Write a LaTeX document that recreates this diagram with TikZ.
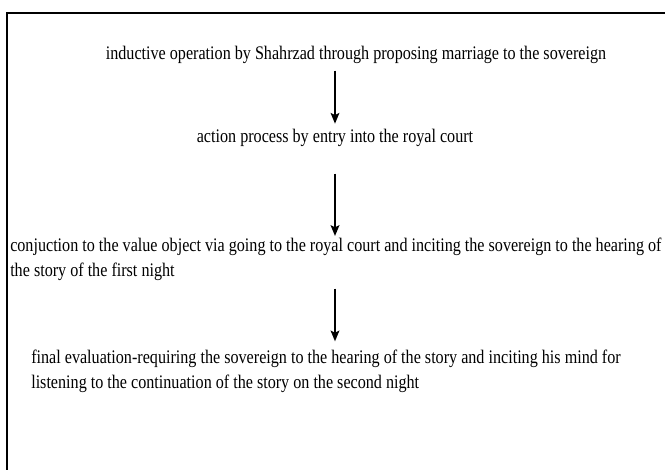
\documentclass[tikz,border=0pt]{standalone}
\usepackage{fontspec}
\setmainfont[FakeStretch=0.84]{Liberation Serif}
\usepackage{tikz}
\usetikzlibrary{arrows.meta,positioning}

\tikzset{
  stage/.style={inner sep=0pt, font=\fontsize{14.4pt}{18.75pt}\selectfont, align=left},
  flow/.style={line width=1.4pt, -{Stealth[length=8pt, width=6.5pt, inset=1.5pt]}}
}

\begin{document}
\begin{tikzpicture}[x=0.75pt, y=-0.75pt]
    \useasboundingbox (0,0) rectangle (665,470);

    % Frame (open to the right and bottom)
    % ---------------------
    \draw[line width=2.2pt] (7,470) -- (7,13) -- (665,13);

    % Stages
    % ---------------------
    \node[stage] (inductive) at (356,55) {inductive operation by Shahrzad through proposing marriage to the sovereign};
    \node[stage] (action) at (335,138) {action process by entry into the royal court};
    \node[stage, anchor=north west] (conjunction) at (10,238) {conjuction to the value object via going to the royal court and inciting the sovereign to the hearing of\\the story of the first night};
    \node[stage, anchor=north west] (evaluation) at (31,350) {final evaluation-requiring the sovereign to the hearing of the story and inciting his mind for\\listening to the continuation of the story on the second night};

    % Arrows
    % ---------------------
    \draw[flow, shorten <=5pt, shorten >=4pt] (inductive.south -| action) -- (action.north);
    \draw[flow, shorten <=20pt, shorten >=1.5pt] (action.south) -- (action |- conjunction.north);
    \draw[flow, shorten <=5.5pt, shorten >=6.5pt] (action |- conjunction.south) -- (action |- evaluation.north);
\end{tikzpicture}
\end{document}
